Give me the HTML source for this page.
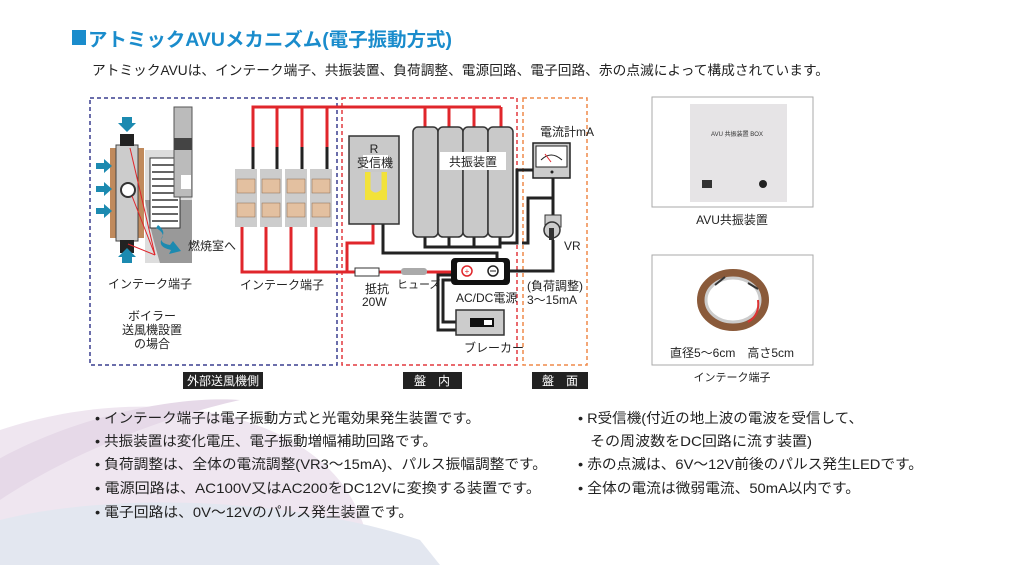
<!DOCTYPE html>
<html><head><meta charset="utf-8"><style>
html,body{margin:0;padding:0;background:#fff;}
body{width:1024px;height:565px;overflow:hidden;position:relative;font-family:"Liberation Sans","Noto Sans CJK JP",sans-serif;}
svg{position:absolute;left:0;top:0;}
svg text{font-family:"Liberation Sans","Noto Sans CJK JP",sans-serif;}
</style></head><body>
<svg width="1024" height="565" viewBox="0 0 1024 565">
<!-- background swooshes -->
<path d="M0 430 C120 390 260 400 330 470 C360 500 370 540 372 565 L0 565 Z" fill="#efe6f0"/>
<path d="M0 520 C120 490 300 500 420 540 L440 565 L0 565 Z" fill="#e3e7f0"/>
<path d="M-20 470 C60 420 170 395 240 400 C150 420 60 460 0 500 Z" fill="#e6d9e8"/>

<!-- title -->
<rect x="72" y="30" width="14" height="15" fill="#1a8ccc"/>
<text x="88" y="46" font-size="19" font-weight="bold" fill="#1a8ccc" textLength="364" lengthAdjust="spacingAndGlyphs">アトミックAVUメカニズム(電子振動方式)</text>
<text x="92" y="75" font-size="13.8" fill="#222" textLength="737" lengthAdjust="spacingAndGlyphs">アトミックAVUは、インテーク端子、共振装置、負荷調整、電源回路、電子回路、赤の点滅によって構成されています。</text>

<!-- dashed zones -->
<rect x="90" y="98" width="247" height="267" fill="none" stroke="#3a3f8f" stroke-width="1.5" stroke-dasharray="4,3"/>
<rect x="342" y="98" width="175" height="267" fill="none" stroke="#e2393f" stroke-width="1.5" stroke-dasharray="4,3"/>
<rect x="523" y="98" width="64" height="267" fill="none" stroke="#ef8a4a" stroke-width="1.5" stroke-dasharray="4,3"/>
<rect x="183" y="372" width="80" height="17" fill="#222"/>
<text x="223" y="385" font-size="12" fill="#fff" text-anchor="middle">外部送風機側</text>
<rect x="403" y="372" width="59" height="17" fill="#222"/>
<text x="432" y="385" font-size="12" fill="#fff" text-anchor="middle">盤　内</text>
<rect x="532" y="372" width="56" height="17" fill="#222"/>
<text x="560" y="385" font-size="12" fill="#fff" text-anchor="middle">盤　面</text>

<!-- blower -->
<rect x="145" y="150" width="47" height="113" fill="#ddd"/>
<path d="M145 200 L192 200 L192 263 L160 263 Q150 230 145 200Z" fill="#999"/>
<rect x="150" y="158" width="30" height="70" fill="#fff" stroke="#333"/>
<g stroke="#333" stroke-width="1.5"><line x1="152" y1="165" x2="178" y2="165"/><line x1="152" y1="172" x2="178" y2="172"/><line x1="152" y1="179" x2="178" y2="179"/><line x1="152" y1="186" x2="178" y2="186"/><line x1="152" y1="193" x2="178" y2="193"/><line x1="152" y1="200" x2="178" y2="200"/><line x1="152" y1="207" x2="178" y2="207"/><line x1="152" y1="214" x2="178" y2="214"/><line x1="152" y1="221" x2="178" y2="221"/></g>
<rect x="174" y="107" width="18" height="90" fill="#bbb" stroke="#555"/>
<rect x="174" y="138" width="18" height="12" fill="#444"/>
<rect x="181" y="175" width="10" height="14" fill="#fff"/>
<rect x="110" y="148" width="6" height="90" fill="#c08a5c"/>
<rect x="138" y="148" width="6" height="90" fill="#c08a5c"/>
<rect x="116" y="145" width="22" height="96" fill="#ccc" stroke="#444"/>
<rect x="120" y="134" width="14" height="12" fill="#222"/>
<rect x="120" y="240" width="14" height="13" fill="#222"/>
<circle cx="128" cy="190" r="7" fill="#fff" stroke="#333" stroke-width="2"/>
<g fill="#1c8ab0"><path d="M122 117 h10 v6 h4 l-9 9 l-9 -9 h4z"/><path d="M122 263 h10 v-6 h4 l-9 -9 l-9 9 h4z"/>
<path d="M96 163 h8 v-4 l8 7 l-8 7 v-4 h-8z"/><path d="M96 186 h8 v-4 l8 7 l-8 7 v-4 h-8z"/><path d="M96 208 h8 v-4 l8 7 l-8 7 v-4 h-8z"/>
<path d="M158 225 q8 6 4 12 q-3 6 8 8 l3 -4 l8 10 l-12 3 l2 -4 q-14 -3 -9 -12 q3 -5 -6 -10z"/></g>
<g stroke="#e0262b" stroke-width="1"><line x1="155" y1="255" x2="130" y2="148"/><line x1="155" y1="255" x2="132" y2="196"/><line x1="155" y1="255" x2="128" y2="244"/></g>
<text x="188" y="250" font-size="12" fill="#222">燃焼室へ</text>
<text x="108" y="288" font-size="12" fill="#222">インテーク端子</text>
<text x="152" y="320" font-size="12" fill="#222" text-anchor="middle">ボイラー</text>
<text x="152" y="334" font-size="12" fill="#222" text-anchor="middle">送風機設置</text>
<text x="152" y="348" font-size="12" fill="#222" text-anchor="middle">の場合</text>

<!-- wiring red -->
<g stroke="#e0262b" stroke-width="3" fill="none">
<polyline points="253,147 253,107 501,107"/>
<line x1="277" y1="107" x2="277" y2="147"/><line x1="302" y1="107" x2="302" y2="147"/><line x1="327" y1="107" x2="327" y2="147"/>
<line x1="425" y1="107" x2="425" y2="127"/><line x1="449" y1="107" x2="449" y2="127"/><line x1="474" y1="107" x2="474" y2="127"/><line x1="501" y1="107" x2="501" y2="127"/>
<polyline points="242,227 242,272 452,272"/>
<line x1="266" y1="227" x2="266" y2="272"/><line x1="291" y1="227" x2="291" y2="272"/><line x1="316" y1="227" x2="316" y2="272"/>
<polyline points="373,224 373,243 347,243 347,272"/>
</g>
<g stroke="#222" stroke-width="3" fill="none">
<line x1="253" y1="147" x2="253" y2="180"/><line x1="277" y1="147" x2="277" y2="180"/><line x1="302" y1="147" x2="302" y2="180"/><line x1="327" y1="147" x2="327" y2="180"/>
<polyline points="383,224 383,253 497,253 497,258"/>
<polyline points="425,237 425,247 500,247 500,237"/><line x1="449" y1="237" x2="449" y2="247"/><line x1="474" y1="237" x2="474" y2="247"/>
<polyline points="500,242 500,243 517,243 517,170 533,170"/>
<polyline points="522,243 528,243 528,198 553,198 553,178"/>
<polyline points="553,215 553,198"/>
<polyline points="510,271 553,271 553,240"/>
<polyline points="458,275 438,275 438,330 456,330"/>
<polyline points="463,280 443,280 443,322 456,322"/>
</g>
<!-- terminal blocks -->
<g>
<rect x="235" y="169" width="22" height="58" fill="#ccc"/><rect x="260" y="169" width="22" height="58" fill="#ccc"/><rect x="285" y="169" width="22" height="58" fill="#ccc"/><rect x="310" y="169" width="22" height="58" fill="#ccc"/>
<g fill="#e3c0a0" stroke="#8a6a50" stroke-width="0.5">
<rect x="237" y="179" width="18" height="14"/><rect x="237" y="203" width="18" height="14"/>
<rect x="262" y="179" width="18" height="14"/><rect x="262" y="203" width="18" height="14"/>
<rect x="287" y="179" width="18" height="14"/><rect x="287" y="203" width="18" height="14"/>
<rect x="312" y="179" width="18" height="14"/><rect x="312" y="203" width="18" height="14"/></g>
</g>
<text x="240" y="289" font-size="12" fill="#222">インテーク端子</text>

<!-- R receiver -->
<rect x="349" y="136" width="50" height="88" fill="#c9c9c9" stroke="#333" stroke-width="1.5"/>
<text x="374" y="153" font-size="12" fill="#222" text-anchor="middle">R</text>
<rect x="363" y="155" width="25" height="14" fill="#fff"/>
<text x="375" y="167" font-size="12" fill="#222" text-anchor="middle">受信機</text>
<path d="M365 172 h22 v28 h-22z" fill="#f2e23a"/>
<path d="M369 172 v18 q6 8 14 0 v-18" fill="#ccc" stroke="#f2e23a" stroke-width="3"/>

<!-- resonators -->
<g fill="#c9c9c9" stroke="#333" stroke-width="1.5">
<rect x="413" y="127" width="25" height="110" rx="5"/><rect x="438" y="127" width="25" height="110" rx="5"/><rect x="463" y="127" width="25" height="110" rx="5"/><rect x="488" y="127" width="25" height="110" rx="5"/></g>
<rect x="440" y="152" width="66" height="18" fill="#fff"/>
<text x="473" y="166" font-size="12" fill="#222" text-anchor="middle">共振装置</text>

<!-- resistor fuse -->
<rect x="355" y="268" width="24" height="8" fill="#fff" stroke="#333"/>
<rect x="401" y="268" width="26" height="7" rx="3" fill="#aaa"/>
<text x="365" y="293" font-size="12" fill="#222">抵抗</text>
<text x="362" y="306" font-size="12" fill="#222">20W</text>
<text x="397" y="288" font-size="11" fill="#222">ヒューズ</text>

<!-- ACDC -->
<rect x="451" y="258" width="59" height="27" rx="4" fill="#111"/>
<rect x="457" y="262" width="47" height="18" rx="2" fill="#fff"/>
<circle cx="467" cy="271" r="5" fill="#fff" stroke="#e0262b" stroke-width="1.5"/><text x="467" y="274" font-size="8" fill="#e0262b" text-anchor="middle">+</text>
<circle cx="493" cy="271" r="5" fill="#fff" stroke="#222" stroke-width="1.5"/><line x1="490" y1="271" x2="496" y2="271" stroke="#222"/>
<text x="456" y="302" font-size="12" fill="#222">AC/DC電源</text>
<rect x="456" y="310" width="48" height="25" fill="#ccc" stroke="#333" stroke-width="1.5"/>
<rect x="470" y="318" width="24" height="9" fill="#111"/><rect x="484" y="320" width="8" height="5" fill="#fff"/>
<text x="464" y="352" font-size="12" fill="#222">ブレーカー</text>

<!-- meter -->
<text x="540" y="136" font-size="12" fill="#222">電流計mA</text>
<rect x="533" y="143" width="37" height="35" fill="#ccc" stroke="#222" stroke-width="1.5"/>
<rect x="536" y="146" width="31" height="21" fill="#fff" stroke="#222"/>
<path d="M541 160 q10 -10 21 0" fill="none" stroke="#222"/>
<line x1="551" y1="162" x2="545" y2="154" stroke="#e0262b"/>
<circle cx="552" cy="172" r="1.5" fill="#222"/>
<!-- VR -->
<rect x="545" y="215" width="16" height="12" fill="#ccc" stroke="#333"/>
<circle cx="552" cy="230" r="8" fill="#ccc" stroke="#333" stroke-width="1.5"/>
<rect x="549" y="228" width="5" height="12" fill="#333"/>
<text x="564" y="250" font-size="12" fill="#222">VR</text>
<text x="527" y="290" font-size="12" fill="#222">(負荷調整)</text>
<text x="527" y="304" font-size="12" fill="#222">3～15mA</text>

<!-- photos -->
<rect x="652" y="97" width="161" height="110" fill="#fff" stroke="#aaa"/>
<rect x="690" y="104" width="97" height="98" fill="#e6e4e6"/>
<text x="737" y="136" font-size="6" fill="#333" text-anchor="middle">AVU 共振装置 BOX</text>
<rect x="702" y="180" width="10" height="8" fill="#333"/>
<circle cx="763" cy="184" r="4" fill="#222"/>
<text x="732" y="224" font-size="12" fill="#222" text-anchor="middle">AVU共振装置</text>
<rect x="652" y="255" width="161" height="110" fill="#fff" stroke="#aaa"/>
<ellipse cx="733" cy="300" rx="32" ry="27" fill="none" stroke="#8a5a3a" stroke-width="8"/>
<ellipse cx="733" cy="300" rx="27" ry="22" fill="none" stroke="#ccc" stroke-width="3"/>
<path d="M715 285 l10 -8 M748 283 l10 6" stroke="#333" stroke-width="2"/>
<path d="M758 300 q2 15 -10 22" stroke="#d33" stroke-width="2" fill="none"/>
<text x="732" y="357" font-size="12" fill="#222" text-anchor="middle">直径5～6cm　高さ5cm</text>
<text x="732" y="381" font-size="11" fill="#222" text-anchor="middle">インテーク端子</text>

<!-- bullets -->
<g font-size="14" fill="#222">
<text x="95" y="423" textLength="385" lengthAdjust="spacingAndGlyphs">• インテーク端子は電子振動方式と光電効果発生装置です。</text>
<text x="95" y="446" textLength="342" lengthAdjust="spacingAndGlyphs">• 共振装置は変化電圧、電子振動増幅補助回路です。</text>
<text x="95" y="469" textLength="452" lengthAdjust="spacingAndGlyphs">• 負荷調整は、全体の電流調整(VR3～15mA)、パルス振幅調整です。</text>
<text x="95" y="493" textLength="446" lengthAdjust="spacingAndGlyphs">• 電源回路は、AC100V又はAC200をDC12Vに変換する装置です。</text>
<text x="95" y="517" textLength="318" lengthAdjust="spacingAndGlyphs">• 電子回路は、0V～12Vのパルス発生装置です。</text>
<text x="578" y="423" textLength="285" lengthAdjust="spacingAndGlyphs">• R受信機(付近の地上波の電波を受信して、</text>
<text x="590" y="446" textLength="222" lengthAdjust="spacingAndGlyphs">その周波数をDC回路に流す装置)</text>
<text x="578" y="469" textLength="345" lengthAdjust="spacingAndGlyphs">• 赤の点滅は、6V～12V前後のパルス発生LEDです。</text>
<text x="578" y="493" textLength="282" lengthAdjust="spacingAndGlyphs">• 全体の電流は微弱電流、50mA以内です。</text>
</g>
</svg>
</body></html>
